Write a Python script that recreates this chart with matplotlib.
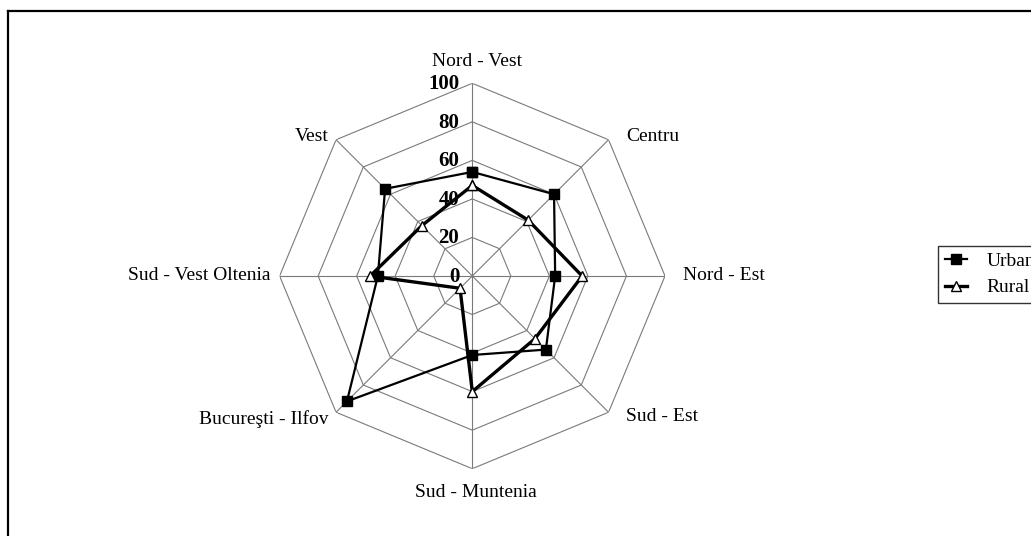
import numpy as np
import matplotlib
matplotlib.use("Agg")
import matplotlib.pyplot as plt
from matplotlib.transforms import offset_copy
from matplotlib.lines import Line2D

plt.rcParams['font.family'] = ['Liberation Serif', 'DejaVu Serif']

categories = ["Nord - Vest", "Centru", "Nord - Est", "Sud - Est",
              "Sud - Muntenia", "Bucureşti - Ilfov", "Sud - Vest Oltenia", "Vest"]
urban = [54, 60, 43, 54, 41, 92, 49, 64]
rural = [47, 41, 57, 46, 60, 9, 53, 37]
tick_values = [0, 20, 40, 60, 80, 100]
series_names = ["Urban", "Rural"]

W, H, DPI = 1031, 536, 100
fig = plt.figure(figsize=(W / DPI, H / DPI), dpi=DPI)

cx, cy, R = 472.3, 276.0, 192.7
ax = fig.add_axes([(cx - R) / W, (H - cy - R) / H, 2 * R / W, 2 * R / H], projection='polar')
ax.set_theta_zero_location('N')
ax.set_theta_direction(-1)
ax.set_ylim(0, 100)
ax.grid(False)
ax.spines['polar'].set_visible(False)
ax.set_xticks([])
ax.set_yticks([])
ax.patch.set_alpha(0)

n = len(categories)
angles = np.arange(n) * 2 * np.pi / n
closed = np.append(angles, angles[0])
gcol = '#7a7a7a'
for lvl in tick_values[1:]:
    ax.plot(closed, [lvl] * (n + 1), color=gcol, lw=0.8, zorder=1)
for a in angles:
    ax.plot([a, a], [0, 100], color=gcol, lw=0.8, zorder=1)

ax.plot(closed, urban + urban[:1], color='black', lw=1.6, marker='s', ms=7,
        mfc='black', mec='black', zorder=3, clip_on=False, label=series_names[0])
ax.plot(closed, rural + rural[:1], color='black', lw=2.4, marker='^', ms=7.5,
        mfc='white', mec='black', mew=1.0, zorder=4, clip_on=False, label=series_names[1])

# radial tick labels
for v in tick_values:
    tr = offset_copy(ax.transData, fig=fig, x=-13, y=-1, units='dots')
    ax.text(0, v, str(v), transform=tr, ha='right', va='center',
            fontsize=15, fontweight='bold', zorder=2)

# category labels
offs = [(5, 22, 'center'), (18, 3, 'left'), (18, 0, 'left'), (17, -4, 'left'),
        (4, -24, 'center'), (-8, -7, 'right'), (-9, 0, 'right'), (-7, 3, 'right')]
for a, lab, (dx, dy, ha) in zip(angles, categories, offs):
    tr = offset_copy(ax.transData, fig=fig, x=dx, y=dy, units='dots')
    ax.text(a, 100, lab, transform=tr, ha=ha, va='center', fontsize=14)

# outer frame (partially visible)
fig.add_artist(Line2D([7.5 / W, 7.5 / W], [0, 1 - 11 / H], transform=fig.transFigure,
                      color='black', lw=1.6))
fig.add_artist(Line2D([7.5 / W, 1], [1 - 11 / H, 1 - 11 / H], transform=fig.transFigure,
                      color='black', lw=1.6))

leg = fig.legend(loc='upper left', bbox_to_anchor=(937.7 / W, 1 - 245.7 / H),
                 fontsize=14, frameon=True, fancybox=False, edgecolor='black',
                 handlelength=1.15, handletextpad=1.0, borderpad=0.35,
                 labelspacing=0.45, borderaxespad=0)
leg.get_frame().set_linewidth(1.0)

fig.savefig('out.png', dpi=DPI)
